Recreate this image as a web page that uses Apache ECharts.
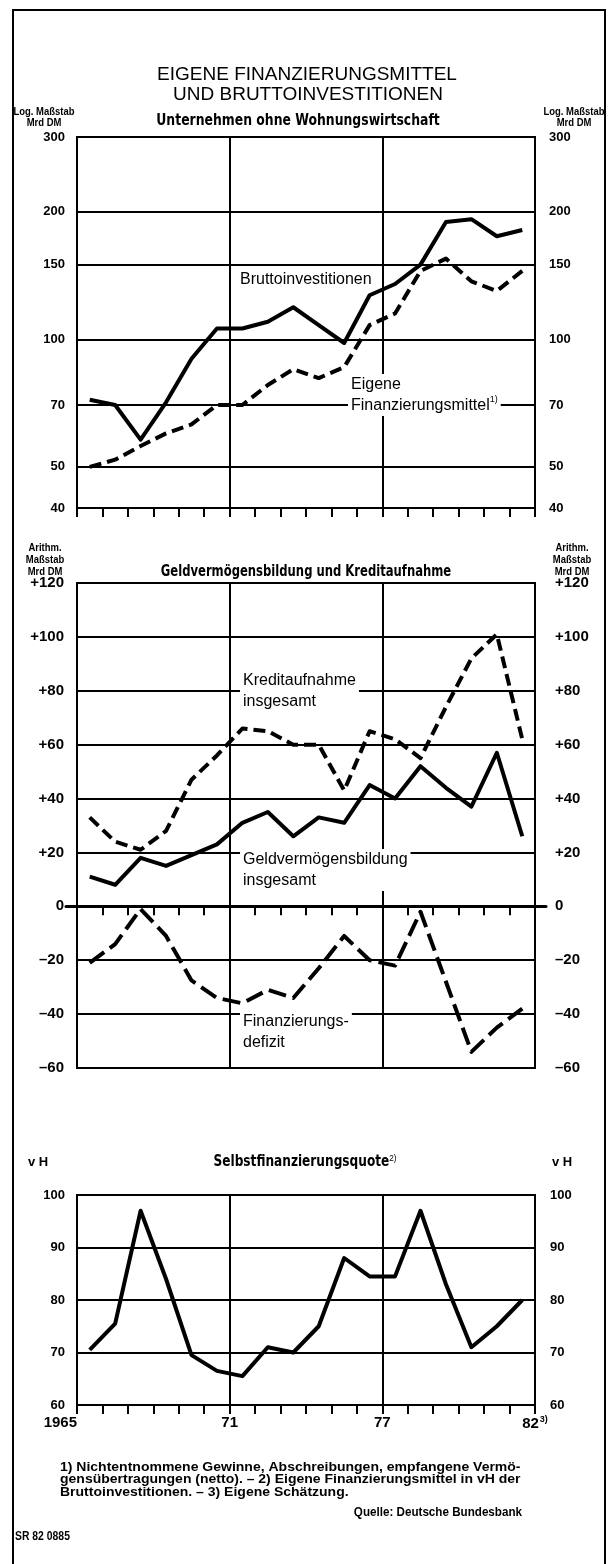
<!DOCTYPE html>
<html><head><meta charset="utf-8">
<script src="https://cdn.jsdelivr.net/npm/echarts@6/dist/echarts.min.js"></script>
<style>html,body{margin:0;padding:0;background:#fff}#c{width:615px;height:1564px}</style>
</head><body><div id="c"></div>
<script>
// ---- data ----
const years = ['1965','1966','1967','1968','1969','1970','1971','1972','1973','1974','1975','1976','1977','1978','1979','1980','1981','1982'];
const bruttoinvestitionen = [72,70,58,71,90,106,106,110,119,108,98,127,135,150,189,192,175,181];
const eigeneMittel = [50,52,56,60,63,70,70,78,85,81,86,108,115,145,155,137,130,145];
const kreditaufnahme = [33,24,21,28,47,56,66,65,60,60,43,65,62,55,74,92,101,62];
const geldvermoegen = [11,8,18,15,19,23,31,35,26,33,31,45,40,52,44,37,57,26];
const finanzierungsdefizit = [-21,-14,-1,-11,-27.5,-34,-36,-31,-34,-23,-11,-20,-22,-2,-28,-54,-45,-38];
const selbstfinanzierungsquote = [70.5,75.5,97,84,69.5,66.5,65.5,71,70,75,88,84.5,84.5,97,83,71,75,80];
const logTicks = [40,50,70,100,150,200,300];
const yearBoundaryLabels = ['1965','71','77','82{s|3)}'];
const majorStep = 6;

// ---- styles ----
const COND = '"DejaVu Sans Condensed","DejaVu Sans",sans-serif';
const SANS = '"Liberation Sans",Arial,sans-serif';
const BLACK = '#000';
const yLabel = {color:BLACK, fontFamily:SANS, fontWeight:'bold', fontSize:13};
const L = 77, W = 458;
const panels = [{top:137,height:371},{top:583,height:485},{top:1195,height:210}];

const grids = [], xAxes = [], yAxes = [];
panels.forEach((p,g) => {
  grids.push({left:L, top:p.top, width:W, height:p.height, show:true, borderColor:BLACK, borderWidth:2, backgroundColor:'transparent'});
  xAxes.push({type:'category', gridIndex:g, data:years, boundaryGap:true, show:false, position:'top'});
  xAxes.push({type:'value', gridIndex:g, min:0, max:years.length, interval:1, position:'bottom',
    axisLine:{show:false}, axisTick:{show:true, length:9, lineStyle:{color:BLACK,width:2}},
    axisLabel:{show:false}, splitLine:{show:false}});
  xAxes.push({type:'value', gridIndex:g, min:0, max:years.length, interval:majorStep, position:'bottom',
    axisLine:{show:false}, axisTick:{show:false},
    axisLabel: g === 2 ? {show:true, margin:10, color:BLACK, fontFamily:SANS, fontWeight:'bold', fontSize:15,
      alignMinLabel:'right',
      formatter: v => yearBoundaryLabels[v / majorStep],
      rich:{s:{fontSize:9, fontFamily:SANS, fontWeight:'bold', verticalAlign:'top', padding:[0,0,8,1]}}} : {show:false},
    splitLine:{show:true, lineStyle:{color:BLACK, width:2}}});
});

// panel 1: log scale
[['left',12,true],['right',14,false]].forEach(([pos,m,split]) => {
  yAxes.push({type:'log', logBase:10, gridIndex:0, min:40, max:300, position:pos,
    axisLine:{show:false}, axisTick:{show:false, customValues:logTicks},
    axisLabel:Object.assign({margin:m, customValues:logTicks}, yLabel),
    splitLine:{show:split, lineStyle:{color:BLACK, width:2}}});
});
// panel 2: arithmetic
const signFmt = v => v > 0 ? '+' + v : (v < 0 ? '\u2013' + (-v) : '0');
[['left',13,true],['right',20,false]].forEach(([pos,m,split]) => {
  yAxes.push({type:'value', gridIndex:1, min:-60, max:120, interval:20, position:pos,
    axisLine:{show:false}, axisTick:{show:false},
    axisLabel:Object.assign({}, yLabel, {margin:m, formatter:signFmt, fontSize:15}),
    splitLine:{show:split, lineStyle:{color:BLACK, width:2}}});
});
// panel 3
[['left',12,true],['right',15,false]].forEach(([pos,m,split]) => {
  yAxes.push({type:'value', gridIndex:2, min:60, max:100, interval:10, position:pos,
    axisLine:{show:false}, axisTick:{show:false},
    axisLabel:Object.assign({margin:m}, yLabel),
    splitLine:{show:split, lineStyle:{color:BLACK, width:2}}});
});
// zero line reaching beyond the frame of panel 2
grids.push({left:66, top:583, width:480, height:485, show:false});
xAxes.push({type:'value', gridIndex:3, min:0, max:1, axisLine:{show:true, onZero:true, lineStyle:{color:BLACK, width:3}},
  axisTick:{show:false}, axisLabel:{show:false}, splitLine:{show:false}});
yAxes.push({type:'value', gridIndex:3, min:-60, max:120, show:false});

function line(data, xi, yi, dash) {
  return {type:'line', xAxisIndex:xi, yAxisIndex:yi, data:data, symbol:'none', silent:true, z:3,
    lineStyle:{color:BLACK, width:4, type: dash || 'solid', cap:'butt', join:'round'}};
}

function txt(x, y, text, font, align, extra, sx) {
  return {type:'text', x:x, y:y, z:20, silent:true, scaleX: sx || 1,
    style:Object.assign({text:text, fill:BLACK, textAlign:align || 'center', textVerticalAlign:'middle', font:font}, extra || {})};
}
const headFont = 'bold 11px ' + SANS;
const subFont = 'bold 15px ' + COND;
const annFont = '16px ' + SANS;
const annBox = {backgroundColor:'#fff', padding:[0,3,0,3], lineHeight:21};
const sup = {s:{fontSize:9, verticalAlign:'top', padding:[0,0,7,0]}};

const graphic = [
  {type:'rect', z:0, silent:true, shape:{x:13, y:10, width:592, height:1600}, style:{fill:'none', stroke:BLACK, lineWidth:2}},
  txt(307, 75, 'EIGENE FINANZIERUNGSMITTEL', '19px ' + SANS),
  txt(308, 95, 'UND BRUTTOINVESTITIONEN', '19px ' + SANS),
  txt(44, 117, 'Log. Maßstab\nMrd DM', headFont, 'center', {lineHeight:11}, 0.86),
  txt(574, 117, 'Log. Maßstab\nMrd DM', headFont, 'center', {lineHeight:11}, 0.86),
  txt(298, 121, 'Unternehmen ohne Wohnungswirtschaft', subFont, 'center', null, 0.92),
  txt(45, 560, 'Arithm.\nMaßstab\nMrd DM', headFont, 'center', {lineHeight:12}, 0.86),
  txt(572, 560, 'Arithm.\nMaßstab\nMrd DM', headFont, 'center', {lineHeight:12}, 0.86),
  txt(306, 572, 'Geldvermögensbildung und Kreditaufnahme', subFont, 'center', null, 0.86),
  txt(38, 1162, 'v H', 'bold 13px ' + SANS),
  txt(562, 1162, 'v H', 'bold 13px ' + SANS),
  txt(305, 1162, 'Selbstfinanzierungsquote{s|2)}', subFont, 'center', {rich:sup}, 0.9),
  // annotations
  txt(237, 280, 'Bruttoinvestitionen', annFont, 'left', annBox),
  txt(348, 395, 'Eigene\nFinanzierungsmittel{s|1)}', annFont, 'left', Object.assign({rich:sup}, annBox)),
  txt(240, 691, 'Kreditaufnahme\ninsgesamt', annFont, 'left', annBox),
  txt(240, 870, 'Geldvermögensbildung\ninsgesamt', annFont, 'left', annBox),
  txt(240, 1032, 'Finanzierungs-\ndefizit', annFont, 'left', annBox),
  // footnotes
  {type:'text', x:60, y:1461, z:20, silent:true, scaleX:1.12, style:{text:'1) Nichtentnommene Gewinne, Abschreibungen, empfangene Vermö-\ngensübertragungen (netto). – 2) Eigene Finanzierungsmittel in vH der\nBruttoinvestitionen. – 3) Eigene Schätzung.', fill:BLACK, font:'bold 12.5px ' + SANS, lineHeight:12.5, textVerticalAlign:'top'}},
  txt(522, 1513, 'Quelle: Deutsche Bundesbank', 'bold 12px ' + SANS, 'right', null, 0.97),
  txt(15, 1536, 'SR 82 0885', 'bold 13px ' + SANS, 'left', null, 0.8)
];

const chart = echarts.init(document.getElementById('c'), null, {renderer:'canvas'});
chart.setOption({
  animation:false,
  backgroundColor:'#fff',
  grid:grids, xAxis:xAxes, yAxis:yAxes,
  series:[
    line(bruttoinvestitionen, 0, 0),
    line(eigeneMittel, 0, 0, [12,6]),
    line(kreditaufnahme, 3, 2, [12,6]),
    line(geldvermoegen, 3, 2),
    line(finanzierungsdefizit, 3, 2, [18,7]),
    line(selbstfinanzierungsquote, 6, 4)
  ],
  graphic:graphic
});
</script></body></html>
